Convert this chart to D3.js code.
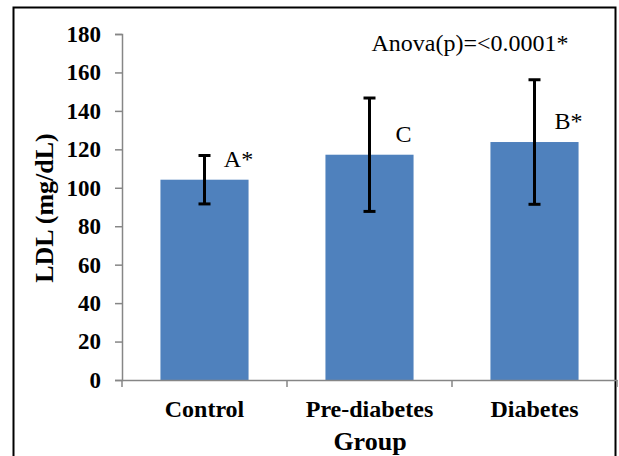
<!DOCTYPE html>
<html>
<head>
<meta charset="utf-8">
<script src="https://cdn.jsdelivr.net/npm/d3@7"></script>
<style>
  body { margin: 0; background: #fff; }
  svg { display: block; font-family: "Liberation Serif", "Times New Roman", serif; }
</style>
</head>
<body>
<div id="chart"></div>
<script>
const groups = ["Control", "Pre-diabetes", "Diabetes"];
const means = [104.2, 117.2, 123.8];
const errors = [12.6, 29.5, 32.4];
const letters = ["A*", "C", "B*"];
const yTicks = [0, 20, 40, 60, 80, 100, 120, 140, 160, 180];

const width = 619;
const height = 456;

const svg = d3.select("#chart").append("svg")
    .attr("width", width)
    .attr("height", height)

// outer frame (bottom edge falls off the picture)
svg.append("rect")
    .attr("x", 13.5).attr("y", 7.5)
    .attr("width", 602).attr("height", 460)
    .attr("fill", "none")
    .attr("stroke", "black")
    .attr("stroke-width", 2)

const x = d3.scaleBand()
    .domain(groups)
    .range([122, 617])
    .paddingInner(0.466)
    .paddingOuter(0.233)

const y = d3.scaleLinear()
    .domain([0, 180])
    .range([380, 34])

// y axis
const yAxis = svg.append("g")
    .attr("transform", "translate(122,0)")
    .call(d3.axisLeft(y).tickValues(yTicks).tickSize(7).tickPadding(14))
yAxis.select(".domain").attr("stroke", "#868686").attr("stroke-width", 1.5)
yAxis.selectAll(".tick line").attr("stroke", "#868686").attr("stroke-width", 1.5)
yAxis.selectAll(".tick text")
    .attr("font-size", 23)
    .attr("font-weight", "bold")
    .attr("font-family", "Liberation Serif, serif")
    .attr("fill", "black")

// bars
svg.append("g")
    .selectAll("rect")
    .data(groups)
    .join("rect")
    .attr("x", (d) => x(d))
    .attr("width", x.bandwidth())
    .attr("y", (d, i) => y(means[i]))
    .attr("height", (d, i) => y(0) - y(means[i]))
    .attr("fill", "#4f81bd")

// x axis
const xAxis = svg.append("g")
    .attr("transform", `translate(0,${y(0)})`)
    .call(d3.axisBottom(x).tickSize(0).tickPadding(20))
xAxis.select(".domain").attr("stroke", "#868686").attr("stroke-width", 1.5)
xAxis.selectAll(".tick text")
    .attr("font-size", 24)
    .attr("font-weight", "bold")
    .attr("font-family", "Liberation Serif, serif")
    .attr("fill", "black")

// category boundary ticks
const gap = x.step() - x.bandwidth()
const bounds = groups.map((d) => x(d) - gap / 2)
bounds.push(x.range()[1])
svg.append("g")
    .selectAll("line")
    .data(bounds)
    .join("line")
    .attr("x1", (d) => d).attr("x2", (d) => d)
    .attr("y1", y(0)).attr("y2", y(0) + 7)
    .attr("stroke", "#868686")
    .attr("stroke-width", 1.5)

// error bars
const eb = svg.append("g").attr("stroke", "black").attr("stroke-width", 3)
groups.forEach((g, i) => {
    const cx = x(g) + x.bandwidth() / 2
    const top = y(means[i] + errors[i])
    const bot = y(means[i] - errors[i])
    eb.append("line").attr("x1", cx).attr("x2", cx).attr("y1", top).attr("y2", bot)
    eb.append("line").attr("x1", cx - 6).attr("x2", cx + 6).attr("y1", top).attr("y2", top)
    eb.append("line").attr("x1", cx - 6).attr("x2", cx + 6).attr("y1", bot).attr("y2", bot)
})

// significance letters
svg.append("g")
    .selectAll("text")
    .data(groups)
    .join("text")
    .attr("x", (d) => x(d) + x.bandwidth() / 2 + 34)
    .attr("y", (d, i) => y(means[i]) - 13)
    .attr("text-anchor", "middle")
    .attr("font-size", 24)
    .text((d, i) => letters[i])

svg.append("text")
    .attr("x", 470)
    .attr("y", 51)
    .attr("text-anchor", "middle")
    .attr("font-size", 24)
    .text("Anova(p)=<0.0001*")

// axis titles
svg.append("text")
    .attr("transform", "translate(53,208) rotate(-90)")
    .attr("text-anchor", "middle")
    .attr("font-size", 26)
    .attr("font-weight", "bold")
    .text("LDL (mg/dL)")

svg.append("text")
    .attr("x", 370)
    .attr("y", 450)
    .attr("text-anchor", "middle")
    .attr("font-size", 26)
    .attr("font-weight", "bold")
    .text("Group")
</script>
</body>
</html>
